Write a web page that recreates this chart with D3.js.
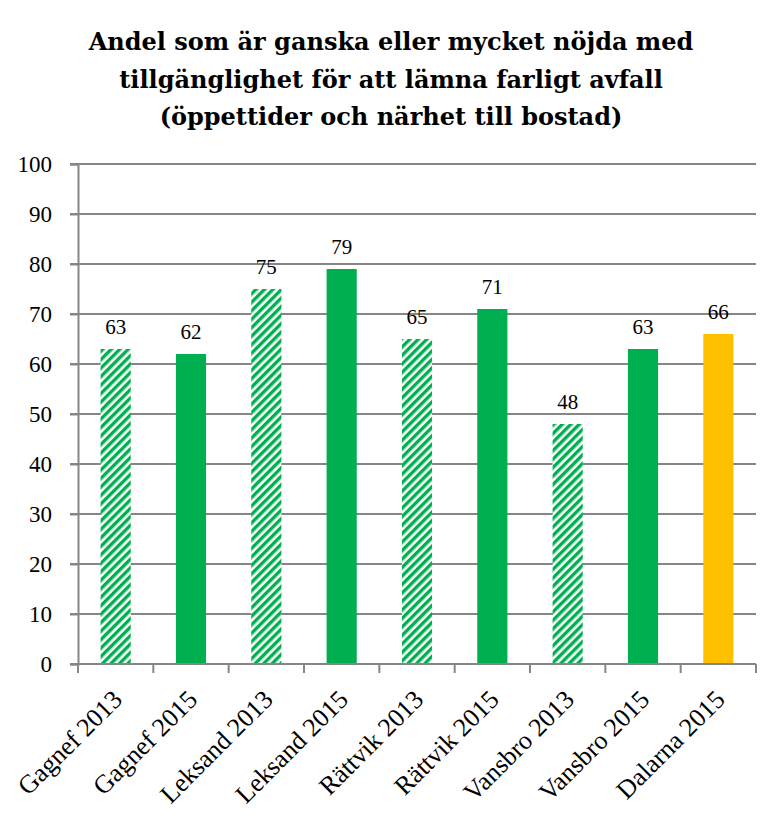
<!DOCTYPE html>
<html><head><meta charset="utf-8">
<script src="https://cdn.jsdelivr.net/npm/d3@7"></script>
<style>body{margin:0;background:#fff}</style>
</head><body>
<svg id="c" width="780" height="825"></svg>
<script>
const categories = ["Gagnef 2013","Gagnef 2015","Leksand 2013","Leksand 2015","Rättvik 2013","Rättvik 2015","Vansbro 2013","Vansbro 2015","Dalarna 2015"];
const values = [63,62,75,79,65,71,48,63,66];
const barStyle = ["hatch","solid","hatch","solid","hatch","solid","hatch","solid","yellow"];
const yTicks = [0,10,20,30,40,50,60,70,80,90,100];
const titleLines = ["Andel som är ganska eller mycket nöjda med","tillgänglighet för att lämna farligt avfall","(öppettider och närhet till bostad)"];

const svg = d3.select("#c");
const font = "Liberation Serif";
const titleFont = "DejaVu Serif";
const green = "#00B050", yellow = "#FFC000", axisCol = "#868686";
const m = {l:78, r:756, t:164, b:664};

const defs = svg.append("defs");
const pat = defs.append("pattern").attr("id","hatch").attr("patternUnits","userSpaceOnUse")
  .attr("width",6).attr("height",6).attr("patternTransform","rotate(45)");
pat.append("rect").attr("width",6).attr("height",6).attr("fill","#fff");
pat.append("rect").attr("width",3.4).attr("height",6).attr("fill",green);

svg.append("g").selectAll("text").data(titleLines).join("text")
  .attr("x",391).attr("y",(d,i)=>50+i*37.5).attr("text-anchor","middle")
  .style("font-family",titleFont).style("font-weight","bold").style("font-size","24px").attr("fill","#000")
  .text(d=>d);

const x = d3.scaleBand().domain(categories).range([m.l,m.r]).paddingInner(0.6).paddingOuter(0.3);
const y = d3.scaleLinear().domain([0,100]).range([m.b,m.t]);

svg.append("g").selectAll("line").data(yTicks).join("line")
  .attr("x1",m.l-8).attr("x2",m.r).attr("y1",d=>y(d)).attr("y2",d=>y(d))
  .attr("stroke",axisCol).attr("stroke-width",2);

const ya = svg.append("g").attr("transform",`translate(${m.l},0)`)
  .call(d3.axisLeft(y).tickValues(yTicks).tickSize(8).tickPadding(18));
ya.select(".domain").attr("stroke",axisCol).attr("stroke-width",2);
ya.selectAll(".tick line").attr("stroke",axisCol).attr("stroke-width",2);
ya.selectAll("text").style("font-family",font).style("font-size","23px").attr("fill","#000");

svg.append("g").selectAll("rect").data(categories).join("rect")
  .attr("x",d=>x(d)).attr("width",x.bandwidth())
  .attr("y",(d,i)=>y(values[i])).attr("height",(d,i)=>y(0)-y(values[i]))
  .attr("fill",(d,i)=>barStyle[i]==="hatch"?"url(#hatch)":barStyle[i]==="yellow"?yellow:green);

svg.append("g").selectAll("text").data(categories).join("text")
  .attr("x",d=>x(d)+x.bandwidth()/2).attr("y",(d,i)=>y(values[i])-15)
  .attr("text-anchor","middle").style("font-family",font).style("font-size","21px").attr("fill","#000")
  .text((d,i)=>values[i]);

const xa = svg.append("g").attr("transform",`translate(0,${m.b})`);
xa.append("line").attr("x1",m.l-8).attr("x2",m.r).attr("stroke",axisCol).attr("stroke-width",2);
const bounds = d3.range(categories.length+1).map(i=>m.l + i*(m.r-m.l)/categories.length);
xa.selectAll("line.t").data(bounds).join("line").attr("class","t")
  .attr("x1",d=>d).attr("x2",d=>d).attr("y1",0).attr("y2",9).attr("stroke",axisCol).attr("stroke-width",2);
xa.selectAll("text").data(categories).join("text")
  .attr("transform",d=>`translate(${x(d)+x.bandwidth()/2+8},37) rotate(-45)`)
  .attr("text-anchor","end").style("font-family",font).style("font-size","26px").attr("fill","#000")
  .text(d=>d);
</script>
</body></html>
